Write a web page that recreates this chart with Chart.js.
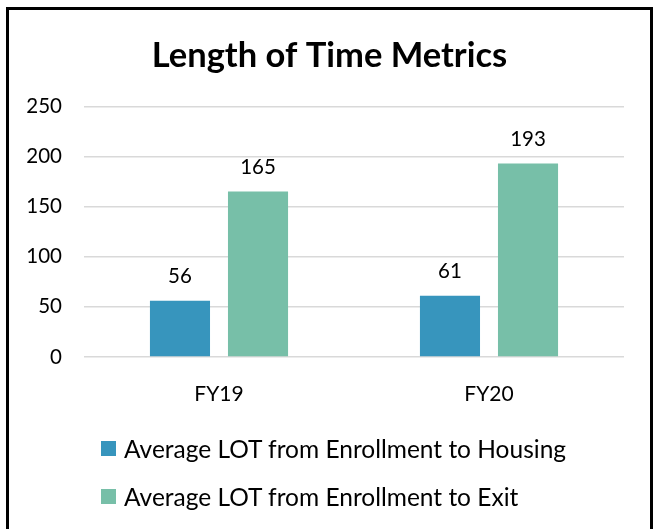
<!DOCTYPE html>
<html>
<head>
<meta charset="utf-8">
<script src="https://cdn.jsdelivr.net/npm/chart.js@4.4.0/dist/chart.umd.min.js"></script>
<style>
  html, body { margin: 0; padding: 0; background: #fff; overflow: hidden; }
  #frame { position: absolute; left: 6px; top: 7px; width: 641px; height: 600px; border: 3px solid #000; }
  #wrap { position: absolute; left: 0; top: 0; width: 655px; height: 529px; }
  #legend { position: absolute; left: 101px; top: 424px; font-family: Lato, sans-serif; font-size: 24.5px; color: #000; }
  #legend .row { height: 48px; display: flex; align-items: center; }
  #legend .box { width: 15px; height: 15px; margin-right: 8px; }
</style>
</head>
<body>
<div id="frame"></div>
<div id="wrap"><canvas id="chart" width="655" height="529"></canvas></div>
<div id="legend"></div>
<script>
const categories = ['FY19', 'FY20'];
const housingLOT = [56, 61];
const exitLOT = [165, 193];
const seriesNames = ['Average LOT from Enrollment to Housing', 'Average LOT from Enrollment to Exit'];
const yTicks = [0, 50, 100, 150, 200, 250];

const colors = ['#3795bd', '#77bfa8'];

// values above each bar
const valueLabels = {
  id: 'valueLabels',
  afterDatasetsDraw(chart) {
    const ctx = chart.ctx;
    ctx.save();
    ctx.font = '20.5px Lato, sans-serif';
    ctx.fillStyle = '#000';
    ctx.textAlign = 'center';
    ctx.textBaseline = 'alphabetic';
    chart.data.datasets.forEach((ds, i) => {
      chart.getDatasetMeta(i).data.forEach((bar, j) => {
        ctx.fillText(ds.data[j], bar.x, bar.y - 18);
      });
    });
    ctx.restore();
  }
};

const chart = new Chart(document.getElementById('chart').getContext('2d'), {
  type: 'bar',
  data: {
    labels: categories,
    datasets: [
      { label: seriesNames[0], data: housingLOT, backgroundColor: colors[0] },
      { label: seriesNames[1], data: exitLOT, backgroundColor: colors[1] }
    ]
  },
  options: {
    responsive: false,
    animation: false,
    layout: { padding: { left: 4, right: 0, top: 0, bottom: 0 } },
    categoryPercentage: 0.578,
    barPercentage: 0.77,
    plugins: {
      legend: { display: false },
      tooltip: { enabled: false },
      title: {
        display: true,
        text: 'Length of Time Metrics',
        color: '#000',
        font: { family: 'Lato, sans-serif', size: 34.5, weight: 'bold' },
        padding: { top: 35, bottom: 30 }
      }
    },
    scales: {
      x: {
        grid: { display: false },
        border: { display: false },
        ticks: { color: '#000', font: { family: 'Lato, sans-serif', size: 21 }, padding: 17 },
        afterFit(scale) { scale.height = 172; }
      },
      y: {
        min: 0,
        max: 250,
        afterBuildTicks(scale) { scale.ticks = yTicks.map(v => ({ value: v })); },
        grid: { color: '#d9d9d9', lineWidth: 1.5, drawTicks: false },
        border: { display: false },
        ticks: { color: '#000', font: { family: 'Lato, sans-serif', size: 20.5 }, padding: 22 },
        afterFit(scale) { scale.width = 80; }
      },
      // empty right-hand spacer so the plot ends where the reference does
      yRight: {
        position: 'right',
        display: true,
        grid: { display: false },
        border: { display: false },
        ticks: { display: false },
        afterFit(scale) { scale.width = 31; }
      }
    }
  },
  plugins: [valueLabels]
});

const legendEl = document.getElementById('legend');
chart.data.datasets.forEach(ds => {
  const row = document.createElement('div');
  row.className = 'row';
  const box = document.createElement('div');
  box.className = 'box';
  box.style.background = ds.backgroundColor;
  const txt = document.createElement('span');
  txt.textContent = ds.label;
  row.appendChild(box);
  row.appendChild(txt);
  legendEl.appendChild(row);
});
</script>
</body>
</html>
